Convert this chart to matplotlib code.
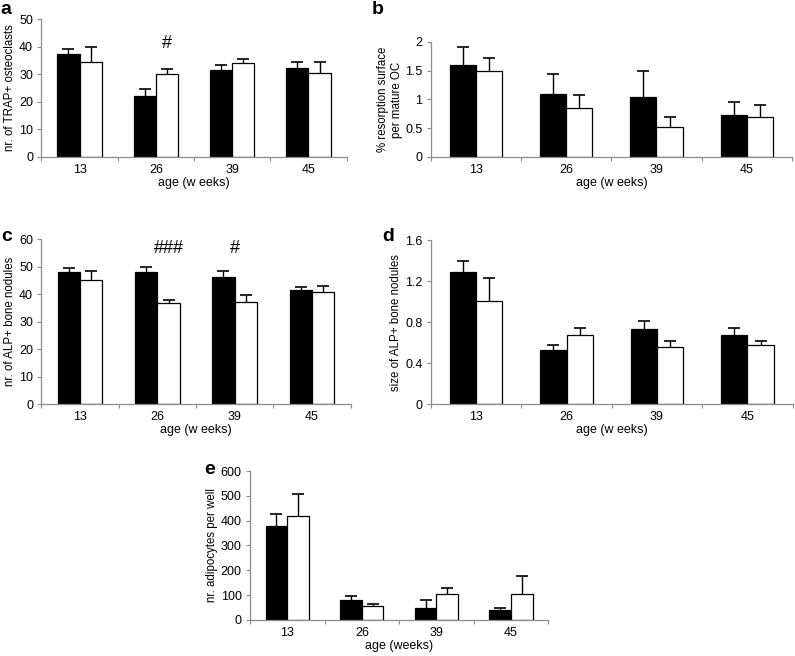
import numpy as np
import matplotlib
matplotlib.use("Agg")
import matplotlib.pyplot as plt

plt.rcParams['font.family'] = ['Liberation Sans', 'DejaVu Sans']

ages = ['13', '26', '39', '45']

# panel a: nr. of TRAP+ osteoclasts
trap_black = [37.3, 22.2, 31.5, 32.3]
trap_black_err = [2.0, 2.3, 1.9, 2.2]
trap_white = [34.5, 29.9, 34.1, 30.3]
trap_white_err = [5.3, 1.8, 1.5, 4.2]

# panel b: % resorption surface per mature OC
resorp_black = [1.60, 1.10, 1.05, 0.72]
resorp_black_err = [0.31, 0.35, 0.44, 0.24]
resorp_white = [1.49, 0.85, 0.52, 0.70]
resorp_white_err = [0.23, 0.23, 0.18, 0.20]

# panel c: nr. of ALP+ bone nodules
alp_nr_black = [48.1, 48.1, 46.1, 41.6]
alp_nr_black_err = [1.5, 1.8, 2.4, 1.0]
alp_nr_white = [45.0, 36.6, 37.3, 40.8]
alp_nr_white_err = [3.4, 1.2, 2.2, 2.1]

# panel d: size of ALP+ bone nodules
alp_size_black = [1.29, 0.53, 0.73, 0.67]
alp_size_black_err = [0.11, 0.05, 0.08, 0.075]
alp_size_white = [1.01, 0.67, 0.555, 0.58]
alp_size_white_err = [0.22, 0.075, 0.065, 0.04]

# panel e: nr. adipocytes per well
adipo_black = [379, 79, 50, 41]
adipo_black_err = [49, 19, 29, 7]
adipo_white = [419, 55, 104, 104]
adipo_white_err = [88, 11, 25, 74]

AXIS_GRAY = '#8c8c8c'
BAR_W = 0.29


def panel(rect, black, black_err, white, white_err, ylim, yticks, yticklabels,
          ylabel, xlabel, letter, letter_pos):
    ax = fig.add_axes(rect)
    x = np.arange(len(ages))
    for offset, vals, errs, fc in [(-BAR_W / 2, black, black_err, 'black'),
                                   (BAR_W / 2, white, white_err, 'white')]:
        bars = ax.bar(x + offset, vals, BAR_W, color=fc, edgecolor='black', lw=0.9,
                      yerr=[np.zeros(len(vals)), errs],
                      error_kw=dict(ecolor='black', elinewidth=1.0, capsize=4.5,
                                    capthick=1.2))
        # only the upper half of the error bar is shown
        bars.errorbar.lines[1][0].set_visible(False)
    ax.set_xlim(-0.5, len(ages) - 0.5)
    ax.set_ylim(*ylim)
    ax.set_yticks(yticks)
    ax.set_yticklabels(yticklabels)
    ax.set_xticks(np.arange(len(ages) + 1) - 0.5)
    ax.set_xticklabels([])
    ax.set_xticks(x, minor=True)
    ax.set_xticklabels(ages, minor=True)
    ax.tick_params(axis='x', which='minor', length=0, labelsize=9, pad=5)
    ax.tick_params(axis='x', which='major', length=3, color=AXIS_GRAY)
    ax.tick_params(axis='y', length=3, color=AXIS_GRAY, labelsize=9, pad=3)
    for s in ['top', 'right']:
        ax.spines[s].set_visible(False)
    for s in ['left', 'bottom']:
        ax.spines[s].set_color(AXIS_GRAY)
        ax.spines[s].set_linewidth(0.9)
    ax.set_xlabel(xlabel, fontsize=9, labelpad=1)
    ax.set_ylabel(ylabel, fontsize=8.3, labelpad=2)
    fig.text(letter_pos[0], letter_pos[1], letter, fontsize=14, fontweight='bold',
             ha='left', va='top')
    return ax


fig = plt.figure(figsize=(7.95, 6.56), dpi=100)

ax_a = panel([0.052, 0.761, 0.384, 0.210], trap_black, trap_black_err,
             trap_white, trap_white_err, (0, 50), [0, 10, 20, 30, 40, 50],
             ['0', '10', '20', '30', '40', '50'],
             'nr. of TRAP+ osteoclasts', 'age (w eeks)', 'a', (0.001, 0.999))
ax_a.text(1 + BAR_W / 2, 41, '#', fontsize=13, ha='center', va='center')

panel([0.542, 0.761, 0.454, 0.175], resorp_black, resorp_black_err,
      resorp_white, resorp_white_err, (0, 2), [0, 0.5, 1, 1.5, 2],
      ['0', '0.5', '1', '1.5', '2'],
      '% resorption surface\nper mature OC', 'age (w eeks)', 'b', (0.467, 0.999))

ax_c = panel([0.052, 0.384, 0.389, 0.2515], alp_nr_black, alp_nr_black_err,
             alp_nr_white, alp_nr_white_err, (0, 60), [0, 10, 20, 30, 40, 50, 60],
             ['0', '10', '20', '30', '40', '50', '60'],
             'nr. of ALP+ bone nodules', 'age (w eeks)', 'c', (0.001, 0.652))
ax_c.text(1 + BAR_W / 2, 56.5, '###', fontsize=13, ha='center', va='center')
ax_c.text(2, 56.5, '#', fontsize=13, ha='center', va='center')

panel([0.542, 0.384, 0.455, 0.250], alp_size_black, alp_size_black_err,
      alp_size_white, alp_size_white_err, (0, 1.6), [0, 0.4, 0.8, 1.2, 1.6],
      ['0', '0.4', '0.8', '1.2', '1.6'],
      'size of ALP+ bone nodules', 'age (w eeks)', 'd', (0.481, 0.652))

panel([0.3145, 0.055, 0.375, 0.227], adipo_black, adipo_black_err,
      adipo_white, adipo_white_err, (0, 600), [0, 100, 200, 300, 400, 500, 600],
      ['0', '100', '200', '300', '400', '500', '600'],
      'nr. adipocytes per well', 'age (weeks)', 'e', (0.257, 0.297))

fig.savefig('out.png', dpi=100)
